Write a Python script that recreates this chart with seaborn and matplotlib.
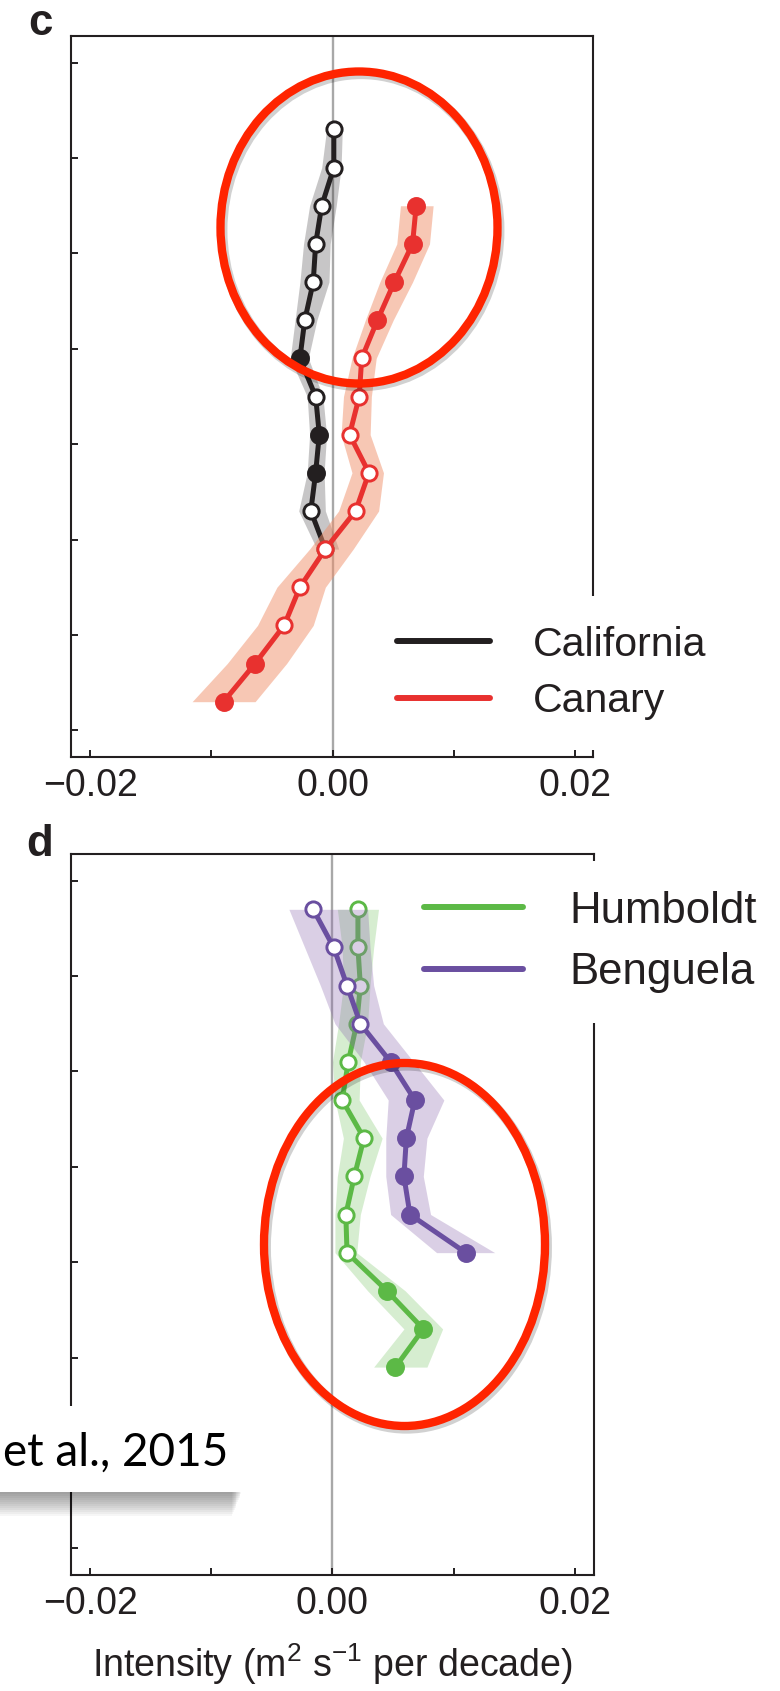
import pandas as pd
import matplotlib
matplotlib.use("Agg")
import matplotlib.pyplot as plt
import matplotlib.patheffects as pe
import seaborn as sns
from matplotlib.lines import Line2D
from matplotlib.patches import Ellipse, Rectangle

# vertical position of each point (axis runs downward, unlabeled ticks every 5)
cal_y = [3.5, 5.5, 7.5, 9.5, 11.5, 13.5, 15.5, 17.5, 19.5, 21.5, 23.5, 25.5]
cal_x = [0.0001, 0.0001, -0.0009, -0.0014, -0.0016, -0.0023, -0.0027, -0.0014, -0.0011, -0.0014, -0.0018, -0.0006]
cal_lo = [-0.0005, -0.0009, -0.0019, -0.0024, -0.0027, -0.0031, -0.0035, -0.0021, -0.0019, -0.0021, -0.0028, -0.0013]
cal_hi = [0.0008, 0.0007, 0.0003, -0.0002, -0.0003, -0.0013, -0.0020, -0.0008, -0.0005, -0.0007, -0.0006, 0.0005]
cal_filled = [0, 0, 0, 0, 0, 0, 1, 0, 1, 1, 0, 0]

can_y = [7.5, 9.5, 11.5, 13.5, 15.5, 17.5, 19.5, 21.5, 23.5, 25.5, 27.5, 29.5, 31.5, 33.5]
can_x = [0.0069, 0.0066, 0.0051, 0.0037, 0.0024, 0.0022, 0.0014, 0.0030, 0.0019, -0.0006, -0.0027, -0.0040, -0.0064, -0.0090]
can_lo = [0.0056, 0.0053, 0.0039, 0.0027, 0.0016, 0.0009, 0.0007, 0.0016, 0.0005, -0.0019, -0.0046, -0.0062, -0.0087, -0.0116]
can_hi = [0.0083, 0.0080, 0.0066, 0.0050, 0.0036, 0.0032, 0.0031, 0.0042, 0.0038, 0.0017, -0.0006, -0.0016, -0.0038, -0.0064]
can_filled = [1, 1, 1, 1, 0, 0, 0, 0, 0, 0, 0, 0, 1, 1]

hum_y = [1.5, 3.5, 5.5, 7.5, 9.5, 11.5, 13.5, 15.5, 17.5, 19.5, 21.5, 23.5, 25.5]
hum_x = [0.0021, 0.0021, 0.0023, 0.0020, 0.0013, 0.0008, 0.0026, 0.0018, 0.0011, 0.0012, 0.0045, 0.0075, 0.0052]
hum_lo = [0.0004, 0.0008, 0.0009, 0.0005, 0.0000, 0.0002, 0.0009, 0.0004, 0.0002, 0.0002, 0.0029, 0.0059, 0.0034]
hum_hi = [0.0038, 0.0034, 0.0031, 0.0029, 0.0023, 0.0022, 0.0041, 0.0031, 0.0023, 0.0020, 0.0060, 0.0091, 0.0078]
hum_filled = [0, 0, 0, 0, 0, 0, 0, 0, 0, 0, 1, 1, 1]

ben_y = [1.5, 3.5, 5.5, 7.5, 9.5, 11.5, 13.5, 15.5, 17.5, 19.5]
ben_x = [-0.0016, 0.0001, 0.0012, 0.0023, 0.0048, 0.0068, 0.0061, 0.0059, 0.0064, 0.0110]
ben_lo = [-0.0036, -0.0023, -0.0010, 0.0002, 0.0026, 0.0046, 0.0044, 0.0044, 0.0048, 0.0086]
ben_hi = [0.0029, 0.0031, 0.0034, 0.0042, 0.0067, 0.0092, 0.0078, 0.0075, 0.0081, 0.0134]
ben_filled = [0, 0, 0, 0, 1, 1, 1, 1, 1, 1]

x_ticks = [-0.02, -0.01, 0.0, 0.01, 0.02]
x_ticklabels = ["\u22120.02", "", "0.00", "", "0.02"]
y_ticks = [0, 5, 10, 15, 20, 25, 30, 35]

INK = "#231f20"
RED = "#e8312f"
GREEN = "#5cb946"
PURPLE = "#6a4fa0"

sns.set_style("ticks")
plt.rcParams["font.family"] = ["Liberation Sans", "DejaVu Sans"]
plt.rcParams["mathtext.fontset"] = "custom"
plt.rcParams["mathtext.rm"] = "Liberation Sans"
plt.rcParams["mathtext.default"] = "regular"

W, H = 780, 1691
fig = plt.figure(figsize=(W / 100, H / 100), dpi=100)


def px(x0, y0, x1, y1):
    return [x0 / W, 1 - y1 / H, (x1 - x0) / W, (y1 - y0) / H]


def profile(ax, y, x, lo, hi, filled, col, band, alpha, z):
    ax.fill_betweenx(y, lo, hi, color=band, alpha=alpha, lw=0, zorder=z)
    sns.lineplot(x=x, y=y, orient="y", sort=False, estimator=None,
                 color=col, lw=3.6, ax=ax, zorder=z + 1)
    df = pd.DataFrame({"x": x, "y": y, "filled": filled})
    sns.scatterplot(data=df[df["filled"] == 1], x="x", y="y", s=135,
                    color=col, edgecolor=col, linewidth=2.0, ax=ax, zorder=z + 2)
    sns.scatterplot(data=df[df["filled"] == 0], x="x", y="y", s=120,
                    color="white", edgecolor=col, linewidth=2.1, ax=ax, zorder=z + 2)


def style_axes(ax, xlim):
    ax.axvline(0, color="#a8a8a8", lw=1.7, zorder=0.5)
    ax.set_xlim(*xlim)
    ax.set_ylim(36.4, -1.4)
    ax.set_xticks(x_ticks)
    ax.set_xticklabels(x_ticklabels)
    ax.set_yticks(y_ticks)
    ax.tick_params(axis="x", direction="in", length=5, width=1.4, pad=8,
                   labelsize=27, colors=INK)
    ax.tick_params(axis="y", direction="in", length=5, width=1.4,
                   labelleft=False, colors=INK)
    ax.set_xlabel("")
    ax.set_ylabel("")
    for s in ax.spines.values():
        s.set_visible(True)
        s.set_color(INK)
        s.set_linewidth(1.5)


def add_legend(ax, labels, colors, x0, y0, size, pad):
    handles = [Line2D([], [], color=c, lw=4.3, solid_capstyle="round") for c in colors]
    leg = ax.legend(handles, labels, loc="upper left",
                    bbox_to_anchor=(x0 / W, 1 - y0 / H), bbox_transform=fig.transFigure,
                    fontsize=size, handlelength=2.27, handletextpad=1.05,
                    labelspacing=0.46, borderpad=pad, borderaxespad=0,
                    frameon=True, fancybox=False, labelcolor=INK)
    leg.get_frame().set_facecolor("white")
    leg.get_frame().set_edgecolor("none")
    leg.get_frame().set_alpha(1)


# panel c
ax_c = fig.add_axes(px(71, 36, 593, 757))
profile(ax_c, cal_y, cal_x, cal_lo, cal_hi, cal_filled, INK, INK, 0.25, 1)
profile(ax_c, can_y, can_x, can_lo, can_hi, can_filled, RED, "#f0906a", 0.5, 4)
style_axes(ax_c, (-0.0216, 0.0215))
add_legend(ax_c, ["California", "Canary"], [INK, RED], 367.5, 596, 29.5, 0.72)

# panel d
ax_d = fig.add_axes(px(71, 854, 594, 1575))
profile(ax_d, hum_y, hum_x, hum_lo, hum_hi, hum_filled, GREEN, GREEN, 0.25, 1)
profile(ax_d, ben_y, ben_x, ben_lo, ben_hi, ben_filled, PURPLE, "#8e6bb0", 0.32, 4)
style_axes(ax_d, (-0.0216, 0.0216))
add_legend(ax_d, ["Humboldt", "Benguela"], [GREEN, PURPLE], 394, 861, 31.5, 0.68)
ax_d.set_xlabel("Intensity (m$^2$ s$^{\u22121}$ per decade)", fontsize=27,
                color=INK, labelpad=14)

fig.text(28 / W, 1 - 35 / H, "c", fontsize=31.5, weight="bold", color=INK, va="baseline")
fig.text(26.5 / W, 1 - 856 / H, "d", fontsize=31.5, weight="bold", color=INK, va="baseline")

# hand-drawn highlight ellipses
shadow = [pe.SimpleLineShadow(offset=(1.5, -2), shadow_color="k", alpha=0.18, linewidth=7), pe.Normal()]
for cx, cy, w, h in [(359, 227.5, 277, 312), (404.5, 1244.5, 281, 363)]:
    e = Ellipse((cx / W, 1 - cy / H), w / W, h / H, transform=fig.transFigure,
                fill=False, ec="#ff2400", lw=6, zorder=10)
    e.set_path_effects(shadow)
    fig.add_artist(e)

# citation box with soft drop shadow
for d in range(2, 26, 2):
    fig.add_artist(Rectangle((0, 1 - (1491.5 + d) / H), (242 - d * 0.4) / W, (85.5 + d) / H,
                             transform=fig.transFigure, fc="black", ec="none",
                             alpha=0.035, zorder=10.5))
fig.add_artist(Rectangle((0, 1 - 1491.5 / H), 243 / W, 85.5 / H, transform=fig.transFigure,
                         fc="white", ec="none", zorder=11))
fig.text(228 / W, 1 - 1466 / H, "et al., 2015", ha="right", va="baseline", fontsize=33,
         family=["Lato", "DejaVu Sans"], color="black", zorder=12)

fig.savefig("out.png", dpi=100)
